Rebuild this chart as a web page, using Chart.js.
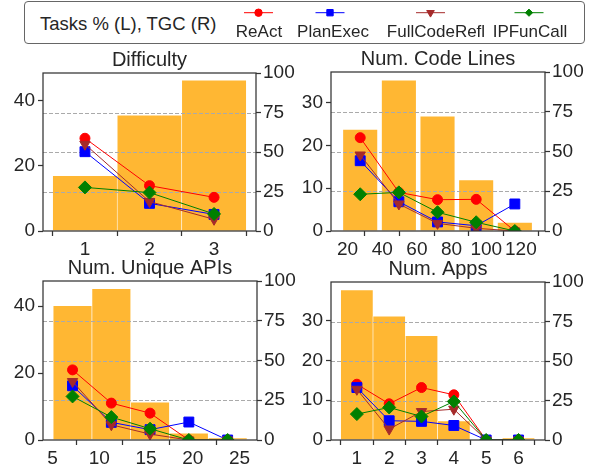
<!DOCTYPE html>
<html>
<head>
<meta charset="utf-8">
<script src="https://cdn.jsdelivr.net/npm/chart.js@4.4.1/dist/chart.umd.min.js"></script>
<style>
    body { margin: 0; width: 594px; height: 465px; background: #fff; position: relative; overflow: hidden;
           font-family: "Liberation Sans", Arial, sans-serif; color: #262626; }
    canvas { position: absolute; }
    #legendBox { position: absolute; left: 24px; top: 1px; width: 561px; height: 43px; box-sizing: border-box;
                 border: 1px solid #666; border-radius: 4px; }
    .lg { position: absolute; line-height: 1; white-space: nowrap; }
    .lgc { position: absolute; line-height: 1; width: 120px; text-align: center; font-size: 17px; }
</style>
</head>
<body>
<div id="legendBox"></div>
<span class="lg" style="left:40px; top:14.5px; font-size:18.5px;">Tasks % (L), TGC (R)</span>
<canvas id="legendMarks" width="594" height="46" style="left:0; top:0;"></canvas>
<div id="legendLabels"></div>

<canvas id="c1" width="297" height="209" style="left:0; top:48px;"></canvas>
<canvas id="c2" width="297" height="210" style="left:297px; top:47px;"></canvas>
<canvas id="c3" width="297" height="209" style="left:0; top:256px;"></canvas>
<canvas id="c4" width="297" height="208" style="left:297px; top:257px;"></canvas>

<script>
// agents, in drawing order
const agents = ["ReAct", "PlanExec", "FullCodeRefl", "IPFunCall"];

// Difficulty
const diffBins = [1, 2, 3];
const diffTasks = [17.0, 35.6, 46.4];
const diffReAct = [58.7, 28.7, 21.3];
const diffPlanExec = [50.2, 17.5, 10.5];
const diffFullCodeRefl = [54.9, 18.6, 7.4];
const diffIPFunCall = [27.6, 24.3, 10.8];

// Num. Code Lines (bin centres)
const codeBins = [27.3, 49.6, 71.9, 94.2, 116.5];
const codeTasks = [23.7, 35.2, 26.8, 11.9, 2.0];
const codeReAct = [58.7, 24.3, 19.7, 19.9, 0];
const codePlanExec = [44.2, 18.4, 5.7, 3.3, 17.0];
const codeFullCodeRefl = [47.8, 17.0, 4.8, 1.7, 0];
const codeIPFunCall = [23.1, 24.3, 11.8, 5.5, 0];

// Num. Unique APIs (bin centres)
const apiBins = [7.13, 11.28, 15.42, 19.57, 23.72];
const apiTasks = [40.1, 45.2, 11.3, 2.0, 0.6];
const apiReAct = [44.1, 23.2, 16.9, 0, 0];
const apiPlanExec = [34.1, 11.1, 6.5, 11.3, 0];
const apiFullCodeRefl = [36.8, 9.6, 3.7, 0, 0];
const apiIPFunCall = [27.4, 14.4, 7.1, 0, 0];

// Num. Apps
const appBins = [1, 2, 3, 4, 5, 6];
const appTasks = [37.7, 31.1, 26.2, 4.8, 0, 0.5];
const appReAct = [35.3, 22.9, 33.2, 28.6, 0, 0];
const appPlanExec = [33.2, 12.2, 11.8, 9.2, 0, 0];
const appFullCodeRefl = [32.1, 6.9, 18.0, 19.5, 0, 0];
const appIPFunCall = [16.4, 20.6, 14.9, 24.4, 0, 0];

const tgcTicks = [0, 25, 50, 75, 100];

const barColor = "rgba(255, 165, 0, 0.8)";
const axisColor = "#333";
const textColor = "#262626";
const styles = [
    { color: "#ff0000", pointStyle: "circle", r: 5, rot: 0, lr: 3.7 },
    { color: "#0000ff", pointStyle: "rect", r: 7, rot: 0, lr: 4.5 },
    { color: "#a52a2a", pointStyle: "triangle", r: 6, rot: 180, lr: 4.4 },
    { color: "#008000", pointStyle: "rectRot", r: 6.5, rot: 0, lr: 3.6 },
];

Chart.defaults.font.family = '"Liberation Sans", Arial, sans-serif';
Chart.defaults.font.size = 19;
Chart.defaults.color = textColor;

// dashed TGC grid over the bars, then a frame round the plot
const gridAndFrame = {
    id: "gridAndFrame",
    afterDatasetDraw(chart, args) {
        if (args.meta.type !== "bar") return;
        const { ctx, chartArea: a } = chart;
        const y2 = chart.scales.y2;
        ctx.save();
        ctx.strokeStyle = "#aaa";
        ctx.lineWidth = 1;
        ctx.setLineDash([4, 2]);
        y2.ticks.forEach((t) => {
            if (t.value <= 0 || t.value >= 100) return;
            const py = Math.round(y2.getPixelForValue(t.value)) + 0.5;
            ctx.beginPath();
            ctx.moveTo(a.left, py);
            ctx.lineTo(a.right, py);
            ctx.stroke();
        });
        ctx.restore();
    },
    afterDatasetsDraw(chart) {
        const { ctx, chartArea: a } = chart;
        ctx.save();
        ctx.strokeStyle = axisColor;
        ctx.lineWidth = 1.25;
        ctx.strokeRect(a.left, a.top, a.right - a.left, a.bottom - a.top);
        ctx.restore();
    },
};

function tickGrid() {
    return { drawOnChartArea: false, drawTicks: true, tickLength: 5, tickColor: axisColor, tickWidth: 1.25 };
}

function makePlot(id, p) {
    const datasets = [
        {
            type: "bar",
            data: p.bins.map((x, i) => ({ x: x, y: p.tasks[i] })),
            backgroundColor: barColor,
            borderColor: "#fff",
            borderWidth: 0.6,
            barPercentage: 1,
            categoryPercentage: 1,
            yAxisID: "y",
            order: 10,
        },
    ];
    p.series.forEach((vals, k) => {
        const s = styles[k];
        datasets.push({
            type: "line",
            label: agents[k],
            data: p.bins.map((x, i) => ({ x: x, y: vals[i] })),
            borderColor: s.color,
            backgroundColor: s.color,
            borderWidth: 1,
            pointStyle: s.pointStyle,
            pointRadius: s.r,
            pointRotation: s.rot,
            pointBorderWidth: 1,
            yAxisID: "y2",
            order: 4 - k,
        });
    });

    return new Chart(document.getElementById(id), {
        type: "bar",
        data: { datasets: datasets },
        options: {
            responsive: false,
            animation: false,
            events: [],
            layout: { padding: 0 },
            plugins: {
                legend: { display: false },
                tooltip: { enabled: false },
                title: {
                    display: true,
                    text: p.title,
                    fullSize: false,
                    color: textColor,
                    font: { size: 20, weight: "normal", lineHeight: "24px" },
                    padding: { top: 0, bottom: 1 },
                },
            },
            scales: {
                x: {
                    type: "linear",
                    min: p.xMin,
                    max: p.xMax,
                    offset: false,
                    ticks: { stepSize: p.xStep, includeBounds: false, padding: 2, maxRotation: 0, autoSkip: false },
                    grid: tickGrid(),
                    border: { display: false },
                    afterFit: (s) => { s.height = p.xH; },
                },
                y: {
                    position: "left",
                    min: 0,
                    max: p.leftMax,
                    ticks: { stepSize: p.leftStep, includeBounds: false, padding: 3 },
                    grid: tickGrid(),
                    border: { display: false },
                    afterFit: (s) => { s.width = p.leftW; },
                },
                y2: {
                    position: "right",
                    min: 0,
                    max: 100,
                    afterBuildTicks: (s) => { s.ticks = tgcTicks.map((v) => ({ value: v })); },
                    ticks: { padding: 2 },
                    grid: tickGrid(),
                    border: { display: false },
                    afterFit: (s) => { s.width = p.rightW; },
                },
            },
        },
        plugins: [gridAndFrame],
    });
}

makePlot("c1", {
    title: "Difficulty", bins: diffBins, tasks: diffTasks,
    series: [diffReAct, diffPlanExec, diffFullCodeRefl, diffIPFunCall],
    xMin: 0.35, xMax: 3.65, xStep: 1, leftMax: 48.6, leftStep: 20,
    leftW: 43, rightW: 41, xH: 26,
});
makePlot("c2", {
    title: "Num. Code Lines", bins: codeBins, tasks: codeTasks,
    series: [codeReAct, codePlanExec, codeFullCodeRefl, codeIPFunCall],
    xMin: 10.45, xMax: 133.9, xStep: 20, leftMax: 37.1, leftStep: 10,
    leftW: 34, rightW: 49, xH: 26,
});
makePlot("c3", {
    title: "Num. Unique APIs", bins: apiBins, tasks: apiTasks,
    series: [apiReAct, apiPlanExec, apiFullCodeRefl, apiIPFunCall],
    xMin: 3.97, xMax: 26.86, xStep: 5, leftMax: 47.5, leftStep: 20,
    leftW: 43, rightW: 40, xH: 25,
});
makePlot("c4", {
    title: "Num. Apps", bins: appBins, tasks: appTasks,
    series: [appReAct, appPlanExec, appFullCodeRefl, appIPFunCall],
    xMin: 0.2, xMax: 6.82, xStep: 1, leftMax: 39.7, leftStep: 10,
    leftW: 34, rightW: 49, xH: 25,
});

// legend: handle above each label
const legendX = [258.5, 330, 430.5, 529];
const legendTextX = [259, 333, 436, 530];
const lctx = document.getElementById("legendMarks").getContext("2d");
const labelsDiv = document.getElementById("legendLabels");
agents.forEach((name, k) => {
    const s = styles[k];
    const cx = legendX[k];
    const cy = 12.7;
    lctx.strokeStyle = s.color;
    lctx.fillStyle = s.color;
    lctx.lineWidth = 1;
    lctx.beginPath();
    lctx.moveTo(cx - 14.5, cy);
    lctx.lineTo(cx + 14.5, cy);
    lctx.stroke();
    Chart.helpers.drawPoint(lctx, { pointStyle: s.pointStyle, radius: s.lr, rotation: s.rot, borderWidth: 1 }, cx, cy);

    const span = document.createElement("span");
    span.className = "lgc";
    span.textContent = name;
    span.style.left = (legendTextX[k] - 60) + "px";
    span.style.top = "23px";
    labelsDiv.appendChild(span);
});
</script>
</body>
</html>
